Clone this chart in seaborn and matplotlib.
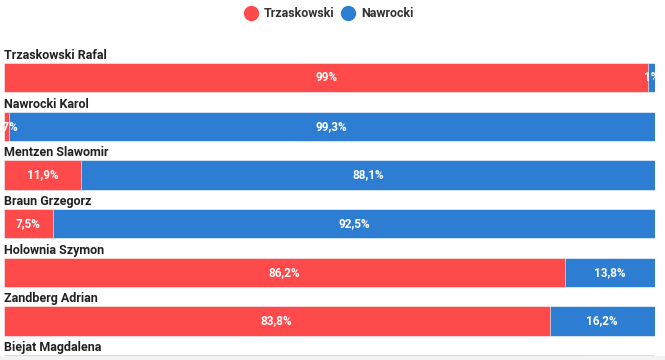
import matplotlib
matplotlib.use("Agg")
import matplotlib.pyplot as plt
from matplotlib.patches import Rectangle
from matplotlib.lines import Line2D
import pandas as pd
import seaborn as sns

candidates = ["Trzaskowski Rafal", "Nawrocki Karol", "Mentzen Slawomir", "Braun Grzegorz",
              "Holownia Szymon", "Zandberg Adrian", "Biejat Magdalena"]
trzaskowski = [99.0, 0.7, 11.9, 7.5, 86.2, 83.8, 90.2]
nawrocki = [1.0, 99.3, 88.1, 92.5, 13.8, 16.2, 9.8]
red_labels = ["99%", "0,7%", "11,9%", "7,5%", "86,2%", "83,8%", "90,2%"]
blue_labels = ["1%", "99,3%", "88,1%", "92,5%", "13,8%", "16,2%", "9,8%"]

RED = "#FF4A4C"
BLUE = "#2D7DD2"

sns.set_theme(style="white")
plt.rcParams["font.family"] = ["Roboto", "DejaVu Sans"]

df = pd.DataFrame({"name": candidates, "t": trzaskowski, "n": nawrocki})
df["total"] = df["t"] + df["n"]

fig = plt.figure(figsize=(6.65, 3.6), dpi=100)
ax = fig.add_axes([4 / 665, 0, 651 / 665, 320 / 360])

# stacked: full bar in blue, red segment on top
sns.barplot(data=df, x="total", y="name", color=BLUE, width=0.6, saturation=1,
            orient="h", ax=ax, edgecolor="#ffffff", linewidth=0.4)
sns.barplot(data=df, x="t", y="name", color=RED, width=0.6, saturation=1,
            orient="h", ax=ax, edgecolor="#ffffff", linewidth=0.4)

ymax, ymin = 5.80, -0.77
ax.set_xlim(0, 100)
ax.set_ylim(ymax, ymin)
ax.axis("off")

for i, name in enumerate(candidates):
    ax.text(0, i - 0.32, name, ha="left", va="bottom", fontsize=9,
            fontweight="bold", color="#222222")
    if i + 0.15 > ymax:
        continue  # value labels fall below the visible area
    t = trzaskowski[i]
    n = nawrocki[i]
    ax.text(t / 2, i, red_labels[i], ha="center", va="center", fontsize=8.5,
            fontweight="bold", color="white", clip_on=True)
    ax.text(t + n / 2, i, blue_labels[i], ha="center", va="center", fontsize=8.5,
            fontweight="bold", color="white", clip_on=True)

# legend at top
handles = [Line2D([], [], marker="o", linestyle="", markersize=10, color=RED),
           Line2D([], [], marker="o", linestyle="", markersize=10, color=BLUE)]
fig.legend(handles, ["Trzaskowski", "Nawrocki"], loc="center", bbox_to_anchor=(0.49, 0.962),
           ncol=2, frameon=False, handletextpad=0.05, columnspacing=0.1,
           prop={"weight": "bold", "size": 9}, labelcolor="#333333")

fig.patches.append(Rectangle((0, 0), 1, 4 / 360, transform=fig.transFigure,
                             facecolor="#f3f3f3", edgecolor="none", zorder=10))

fig.savefig("out.png", dpi=100)
